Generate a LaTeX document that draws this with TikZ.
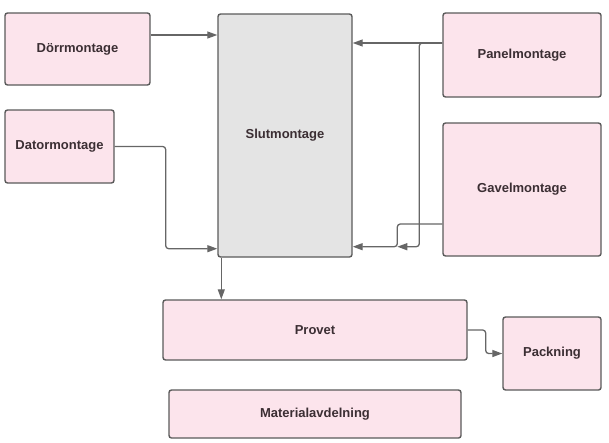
\documentclass[tikz,border=0pt]{standalone}
\usepackage{fontspec}
\setmainfont{Liberation Sans}
\usepackage{tikz}
\usetikzlibrary{arrows.meta, positioning}

\definecolor{boxpink}{HTML}{FCE4EC}
\definecolor{boxgray}{HTML}{E4E4E4}
\definecolor{boxline}{HTML}{5A5A5A}
\definecolor{linkgray}{HTML}{666666}
\definecolor{textdark}{HTML}{3B2E33}

\begin{document}
\begin{tikzpicture}[x=1pt, y=-1pt, >={Triangle[length=10pt,width=7pt]},
    font=\fontsize{13}{15}\selectfont\bfseries, text=textdark]
      \tikzstyle{block}=[draw=boxline, fill=boxpink, line width=1.4pt, rounded corners=2.5pt, inner sep=0pt]
      \tikzstyle{link}=[->, draw=linkgray, line width=1.3pt, rounded corners=3pt]
      \useasboundingbox (0,0) rectangle (609,442);
      \node[block, fill=boxgray, minimum width=134pt, minimum height=243pt] (slut) at (285,135.5) {Slutmontage};
      \node[block, minimum width=145pt, minimum height=72pt] (door) at (77.5,49) {Dörrmontage};
      \node[block, minimum width=109pt, minimum height=73pt] (dator) at (59.5,146.5) {Datormontage};
      \node[block, minimum width=158pt, minimum height=84pt] (panel) at (522,55) {Panelmontage};
      \node[block, minimum width=158pt, minimum height=133pt] (gavel) at (522,189.5) {Gavelmontage};
      \node[block, minimum width=304pt, minimum height=60pt] (provet) at (315,330) {Provet};
      \node[block, minimum width=98pt, minimum height=73pt] (pack) at (552,353.5) {Packning};
      \node[block, minimum width=292pt, minimum height=48pt] (mat) at (315,414) {Materialavdelning};
      % inflows to Slutmontage
      \draw[link] ([yshift=14pt]door.east) coordinate (d1) -- (d1 -| slut.west);
      \draw[link] (dator.east) -- ++(51,0) |- ([yshift=9pt]slut.south west);
      \draw[link] ([yshift=12pt]panel.west) coordinate (p1) -- (p1 -| slut.east);
      \draw[link] ([yshift=-34.5pt]gavel.west) coordinate (g1) -- ++(-45,0) coordinate (g2)
            |- ([yshift=11pt]slut.south east);
      \draw[link] (p1) -- ++(-23,0) |- ([yshift=11pt]g2 |- slut.south);
      % outflows
      \draw[link] ([xshift=4pt]slut.south west) coordinate (s1) -- (s1 |- provet.north);
      \draw[link] (provet.east) -- ++(18,0) |- (pack.west);
    \end{tikzpicture}
\end{document}
